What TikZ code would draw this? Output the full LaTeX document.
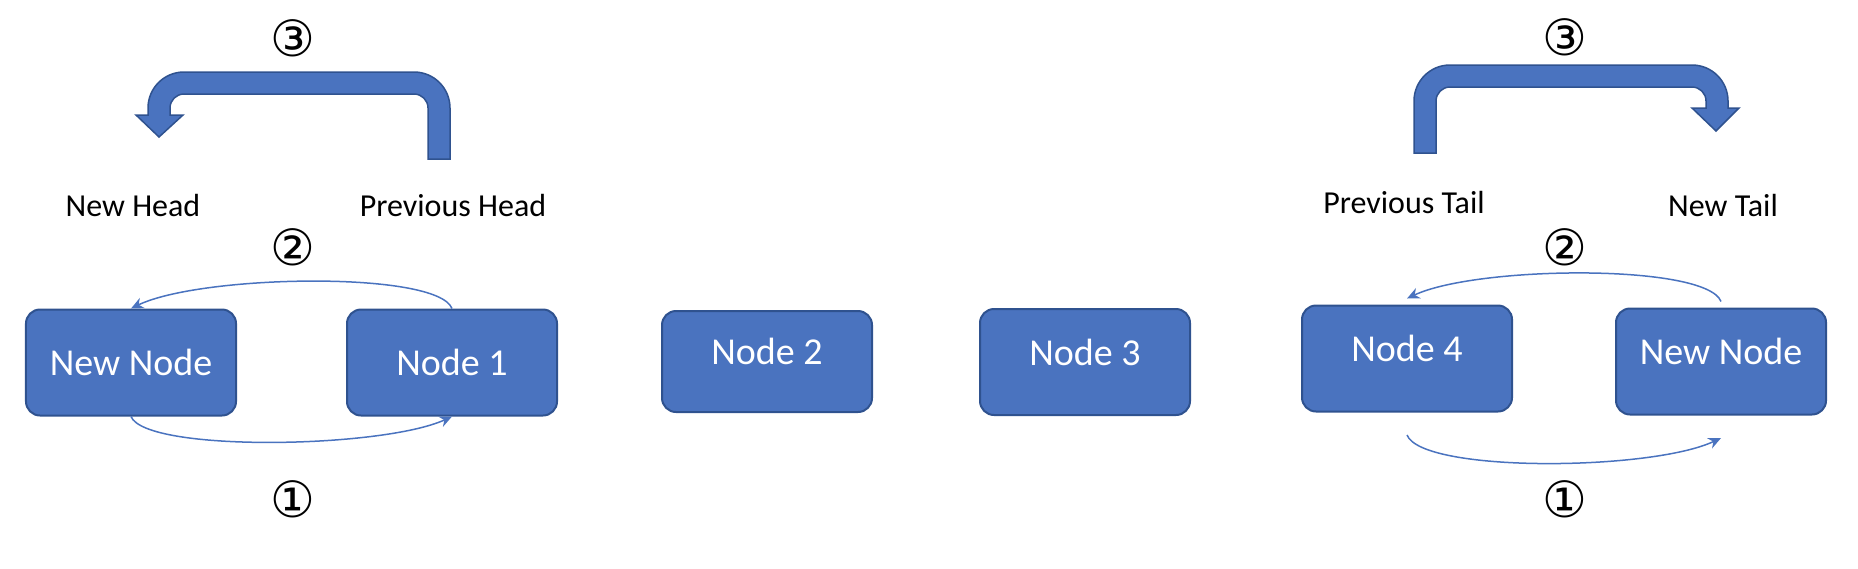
\documentclass[tikz,border=0pt]{standalone}
\usepackage{fontspec}
\setmainfont{Carlito}
\newfontfamily\circfont{DejaVu Sans}
\usetikzlibrary{arrows.meta}
\definecolor{boxblue}{HTML}{4A73BF}
\definecolor{boxedge}{HTML}{2F528F}

\begin{document}
\begin{tikzpicture}[x=0.4pt,y=-0.4pt,
    listnode/.style={draw=boxedge,line width=0.8pt,fill=boxblue,rounded corners=5.6pt,
      minimum width=84pt,minimum height=42.4pt,inner sep=0pt,text=white,
      font=\fontsize{15.2}{18}\selectfont,text height=10.5pt,text depth=0pt},
    raised/.style={text depth=8pt},
    caption/.style={anchor=base,font=\fontsize{12.8}{15}\selectfont},
    stepnum/.style={font=\circfont\fontsize{20}{24}\selectfont},
    link/.style={boxblue,line width=0.6pt,-{Stealth[length=5pt,width=4.5pt]}},
    bent/.style={fill=boxblue,draw=boxedge,line width=0.6pt}]
  \useasboundingbox (0,0) rectangle (1858,568);

  % insert at head
  \node[listnode] (hnew) at (131,362.5) {New Node};
  \node[listnode] (n1) at (452,362.5) {Node 1};
  \node[listnode,raised,minimum height=40.4pt] (n2) at (767,361.5) {Node 2};
  \node[listnode,raised] (n3) at (1085,362) {Node 3};
  % insert at tail
  \node[listnode,raised] (n4) at (1407,358.5) {Node 4};
  \node[listnode,raised] (tnew) at (1721,361.5) {New Node};

  \node[caption] (newhead) at (133,216) {New Head};
  \node[caption] (prevhead) at (453,216) {Previous Head};
  \node[caption] (prevtail) at (1404,213) {Previous Tail};
  \node[caption] (newtail) at (1723,216) {New Tail};

  \node[stepnum] (h1) at (293,499) {①};
  \node[stepnum] (h2) at (293,247) {②};
  \node[stepnum] (h3) at (293,38) {③};
  \node[stepnum] (t1) at (1565,499) {①};
  \node[stepnum] (t2) at (1565,247) {②};
  \node[stepnum] (t3) at (1565,37) {③};

  \draw[link] (hnew.south) .. controls +(15,36) and +(-70,32) .. (n1.south);
  \draw[link] (n1.north) .. controls +(-15,-38) and +(70,-34) .. (hnew.north);
  \draw[link] ([yshift=-9pt]n4.south) .. controls +(15,38) and +(-70,33) .. ([yshift=-9pt]tnew.south);
  \draw[link] ([yshift=2.4pt]tnew.north) .. controls +(-15,-38) and +(70,-33) .. ([yshift=2.4pt]n4.north);

  % head moves left
  \draw[bent] (428,159) -- (428,108) arc[start angle=0,end angle=90,radius=5.6pt]
    -- (184,94) arc[start angle=90,end angle=180,radius=5.6pt]
    -- (170,115) -- (183,115) -- (159,137) -- (136,115) -- (148,115)
    -- (148,108) arc[start angle=180,end angle=90,radius=14.4pt]
    -- (414,72) arc[start angle=90,end angle=0,radius=14.4pt]
    -- (450,159) -- cycle;
  % tail moves right
  \draw[bent] (1414,153) -- (1414,101) arc[start angle=180,end angle=90,radius=14.4pt]
    -- (1692,65) arc[start angle=90,end angle=0,radius=14.4pt]
    -- (1728,108) -- (1739,108) -- (1716,131) -- (1692,108) -- (1706,108)
    -- (1706,101) arc[start angle=0,end angle=90,radius=5.6pt]
    -- (1450,87) arc[start angle=90,end angle=180,radius=5.6pt]
    -- (1436,153) -- cycle;
\end{tikzpicture}
\end{document}
